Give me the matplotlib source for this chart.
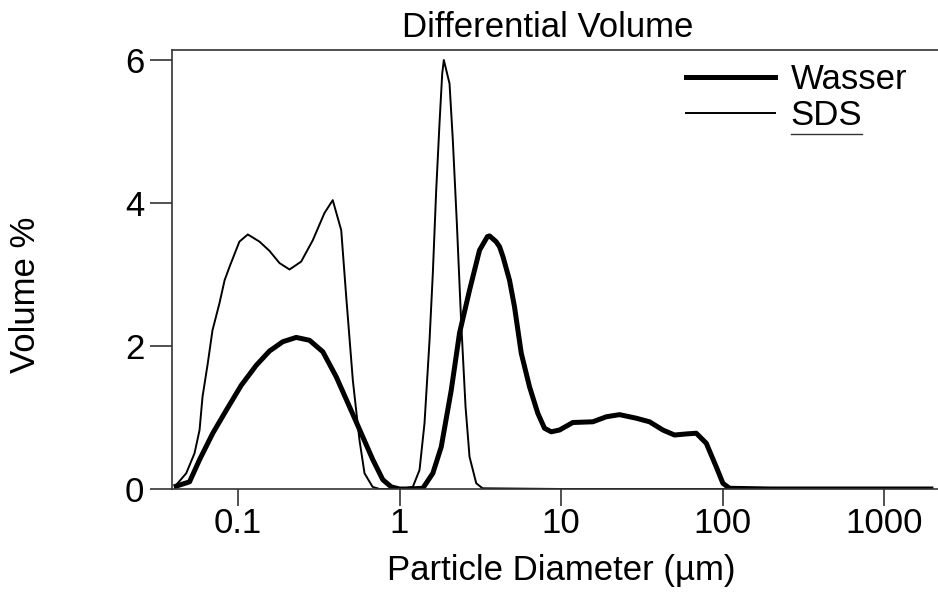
import matplotlib
matplotlib.use("Agg")
import matplotlib.pyplot as plt
from matplotlib.lines import Line2D
from matplotlib.ticker import FixedLocator, FixedFormatter, NullLocator

# Wasser (thick line): particle diameter in um, volume %
wasser_d = [0.0414, 0.0501, 0.0578, 0.0698, 0.0845, 0.1047, 0.1297, 0.1567, 0.1894,
            0.2293, 0.2772, 0.335, 0.4055, 0.4903, 0.579, 0.6834, 0.788, 0.888,
            1.0, 1.153, 1.394, 1.608, 1.813, 2.090, 2.352, 2.713, 3.129, 3.5,
            3.608, 3.96, 4.161, 4.37, 4.798, 5.15, 5.671, 6.38, 7.18, 7.9,
            8.697, 9.788, 11.83, 15.74, 19.06, 23.02, 29.22, 35.32, 42.69, 50.44,
            59.6, 68.74, 79.3, 91.4, 100.5, 110.5, 200, 500, 1000, 1950]
wasser_v = [0.04, 0.10, 0.41, 0.78, 1.10, 1.45, 1.73, 1.93, 2.06,
            2.12, 2.08, 1.92, 1.57, 1.15, 0.78, 0.41, 0.13, 0.03,
            0.0, 0.0, 0.01, 0.22, 0.59, 1.38, 2.18, 2.78, 3.34, 3.53,
            3.54, 3.46, 3.39, 3.25, 2.92, 2.55, 1.90, 1.43, 1.06, 0.85,
            0.80, 0.825, 0.93, 0.94, 1.01, 1.04, 0.99, 0.94, 0.825, 0.755,
            0.77, 0.78, 0.64, 0.31, 0.08, 0.01, 0.0, 0.0, 0.0, 0.0]

# SDS (thin line)
sds_d = [0.0414, 0.0478, 0.0538, 0.0578, 0.0603, 0.065, 0.0695, 0.0768, 0.0826,
         0.0887, 0.102, 0.115, 0.1358, 0.1567, 0.1807, 0.2084, 0.246, 0.2905,
         0.343, 0.386, 0.4355, 0.4677, 0.514, 0.565, 0.607, 0.681, 0.752, 1.0,
         1.209, 1.330, 1.428, 1.534, 1.608, 1.687, 1.769, 1.838, 1.881, 2.040,
         2.138, 2.264, 2.410, 2.563, 2.713, 2.985, 3.265, 10, 100, 1000, 1950]
sds_v = [0.056, 0.22, 0.50, 0.825, 1.29, 1.76, 2.22, 2.60, 2.92,
         3.11, 3.46, 3.56, 3.46, 3.33, 3.16, 3.07, 3.18, 3.48,
         3.86, 4.04, 3.62, 2.69, 1.52, 0.685, 0.22, 0.03, 0.0, 0.0,
         0.03, 0.266, 0.92, 2.08, 3.02, 4.18, 5.12, 5.81, 6.0, 5.67,
         4.88, 3.72, 2.32, 1.15, 0.45, 0.08, 0.01, 0.0, 0.0, 0.0, 0.0]

x_ticks = [0.1, 1, 10, 100, 1000]
x_tick_labels = ["0.1", "1", "10", "100", "1000"]
y_ticks = [0, 2, 4, 6]

plt.rcParams['font.family'] = ['Liberation Sans', 'DejaVu Sans']
fs = 25
edge = '#333333'

fig = plt.figure(figsize=(9.38, 5.93), dpi=100)
ax = fig.add_axes([172/938, 104/593, 766/938, 439/593])

ax.plot(wasser_d, wasser_v, color='black', lw=3.6, solid_joinstyle='round',
        label='Wasser')
ax.plot(sds_d, sds_v, color='black', lw=1.4, label='SDS')

ax.set_xscale('log')
ax.set_xlim(10**-1.4087, 10**3.334)
ax.set_ylim(0, 6.14)

ax.xaxis.set_major_locator(FixedLocator(x_ticks))
ax.xaxis.set_major_formatter(FixedFormatter(x_tick_labels))
ax.xaxis.set_minor_locator(NullLocator())
ax.set_yticks(y_ticks)
ax.set_yticklabels([str(v) for v in y_ticks])

for s in ['left', 'bottom', 'top']:
    ax.spines[s].set_color(edge)
    ax.spines[s].set_linewidth(1.2)
ax.spines['right'].set_visible(False)

ax.tick_params(axis='x', direction='out', length=12, width=1.2, color=edge,
               labelsize=fs, pad=1)
ax.tick_params(axis='y', direction='out', length=16, width=1.2, color=edge,
               labelsize=fs, pad=4)

ax.set_xlabel('Particle Diameter (µm)', fontsize=fs)
ax.xaxis.set_label_coords(0.508, -0.148)
ax.set_ylabel('Volume %', fontsize=fs)
ax.yaxis.set_label_coords(-0.170, 0.442)
ax.set_title('Differential Volume', fontsize=fs, x=0.491, y=1.030, pad=0)

leg = ax.legend(loc='upper left', bbox_to_anchor=(0.671, 0.970), frameon=False,
                fontsize=fs, handlelength=2.56, handletextpad=0.46,
                labelspacing=0.08, borderpad=0, borderaxespad=0)

# underline under the SDS legend entry, as in the original
fig.canvas.draw()
bb = leg.get_texts()[1].get_window_extent()
y_ul = bb.y0 - 2
fig.add_artist(Line2D([bb.x0 / fig.bbox.width, bb.x1 / fig.bbox.width],
                      [y_ul / fig.bbox.height, y_ul / fig.bbox.height],
                      color=edge, lw=1.0))

fig.savefig('out.png', dpi=100)
